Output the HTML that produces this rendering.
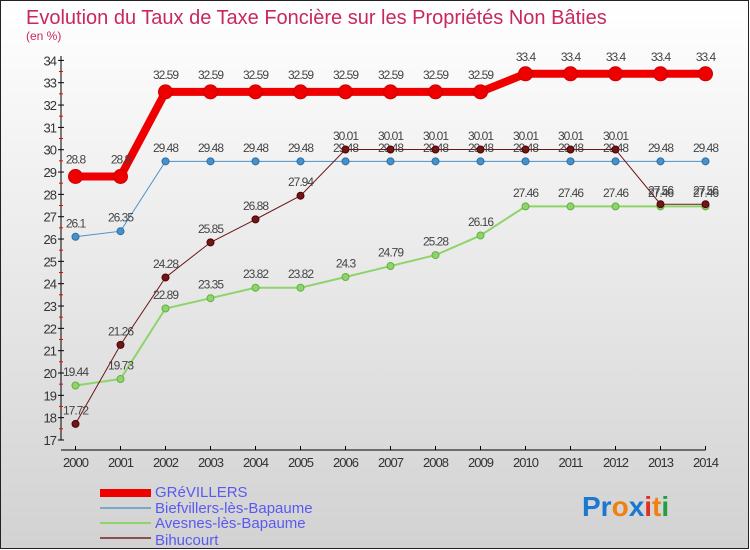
<!DOCTYPE html>
<html><head><meta charset="utf-8"><style>
body{margin:0}
svg{display:block;font-family:"Liberation Sans",sans-serif}
</style></head><body>
<svg width="750" height="550" viewBox="0 0 750 550">
<defs><linearGradient id="bg" x1="0" y1="0" x2="0" y2="1"><stop offset="0" stop-color="#ffffff"/><stop offset="1" stop-color="#d2d2d2"/></linearGradient></defs>
<rect x="0.5" y="0.5" width="748" height="548" fill="url(#bg)" stroke="#222"/>
<text x="26" y="24" font-size="20" fill="#c8285a">Evolution du Taux de Taxe Foncière sur les Propriétés Non Bâties</text>
<text x="26" y="40" font-size="12" fill="#c8285a">(en %)</text>
<g id="axes"></g>
<g id="series"></g>
<g>
<rect x="100" y="489" width="51" height="8" fill="#e00"/>
<text x="155" y="497" font-size="15" fill="#5a5af0">GRéVILLERS</text>
<rect x="100" y="507" width="51" height="2" fill="#7aa8c8"/>
<text x="155" y="513" font-size="15" fill="#5a5af0">Biefvillers-lès-Bapaume</text>
<rect x="100" y="522" width="51" height="2" fill="#8ed46a"/>
<text x="155" y="528" font-size="15" fill="#5a5af0">Avesnes-lès-Bapaume</text>
<rect x="100" y="537" width="51" height="2" fill="#8a5050"/>
<text x="155" y="545" font-size="15" fill="#5a5af0">Bihucourt</text>
</g>
<text x="582" y="516" font-size="28" font-weight="bold"><tspan fill="#1a78d0">Pr</tspan><tspan fill="#f08010">o</tspan><tspan fill="#1a78d0">x</tspan><tspan fill="#e03020">i</tspan><tspan fill="#f08010">t</tspan><tspan fill="#20a040">i</tspan></text>
</svg>
<script>
const years=[2000,2001,2002,2003,2004,2005,2006,2007,2008,2009,2010,2011,2012,2013,2014];
const grevillers=[28.8,28.8,32.59,32.59,32.59,32.59,32.59,32.59,32.59,32.59,33.4,33.4,33.4,33.4,33.4];
const biefvillers=[26.1,26.35,29.48,29.48,29.48,29.48,29.48,29.48,29.48,29.48,29.48,29.48,29.48,29.48,29.48];
const avesnes=[19.44,19.73,22.89,23.35,23.82,23.82,24.3,24.79,25.28,26.16,27.46,27.46,27.46,27.46,27.46];
const bihucourt=[17.72,21.26,24.28,25.85,26.88,27.94,30.01,30.01,30.01,30.01,30.01,30.01,30.01,27.56,27.56];
const yTicks=[17,18,19,20,21,22,23,24,25,26,27,28,29,30,31,32,33,34];
const NS="http://www.w3.org/2000/svg";
const xS=i=>75.5+i*45;
const yS=v=>440-(v-17)*22.33;
function mk(tag,attrs,parent){const e=document.createElementNS(NS,tag);for(const k in attrs)e.setAttribute(k,attrs[k]);parent.appendChild(e);return e;}
const ax=document.getElementById('axes');
let yl=mk('line',{x1:61,y1:56,x2:61,y2:440,stroke:'#000'},ax);


let xl=mk('line',{x1:61,y1:450,x2:xS(years.length-1),y2:450,stroke:'#000'},ax);


yTicks.forEach(v=>{
  const y=yS(v);
  mk('line',{x1:58,y1:y,x2:64,y2:y,stroke:'#000'},ax);
  if(v<34)mk('line',{x1:59,y1:y-11.2,x2:63,y2:y-11.2,stroke:'#e00'},ax);
  const t=mk('text',{x:56,y:y+5,'font-size':13,fill:'#333','text-anchor':'end','letter-spacing':'-1'},ax);
  t.textContent=v;
  
  
});
years.forEach((yr,i)=>{
  const x=xS(i);
  mk('line',{x1:x,y1:446,x2:x,y2:450,stroke:'#000'},ax);
  const t=mk('text',{x:x,y:467,'font-size':13,fill:'#333','text-anchor':'middle','letter-spacing':'-1'},ax);
  t.textContent=yr;
  
  
});
const sg=document.getElementById('series');
function draw(name,vals,color,w,r,stroke){
  const g=mk('g',{},sg);
  
  
  mk('polyline',{points:vals.map((v,i)=>xS(i)+','+yS(v)).join(' '),fill:'none',stroke:color,'stroke-width':w},g);
  vals.forEach((v,i)=>{
    const c=mk('circle',{cx:xS(i),cy:yS(v),r:r,fill:color,stroke:stroke,'stroke-width':1},g);
    
    
    const t=mk('text',{x:xS(i),y:yS(v)-(r+6),'font-size':12,fill:'#444','text-anchor':'middle','letter-spacing':'-1'},g);
    t.textContent=v;
    
    
  });
}
draw('biefvillers',biefvillers,'#4a90c8',1,3.5,'#2a70a8');
draw('avesnes',avesnes,'#8ed46a',2,3.5,'#60b040');
draw('bihucourt',bihucourt,'#6a1818',1,3.5,'#500');
draw('grevillers',grevillers,'#e00',8,7,'#c00');
</script>
</body></html>
